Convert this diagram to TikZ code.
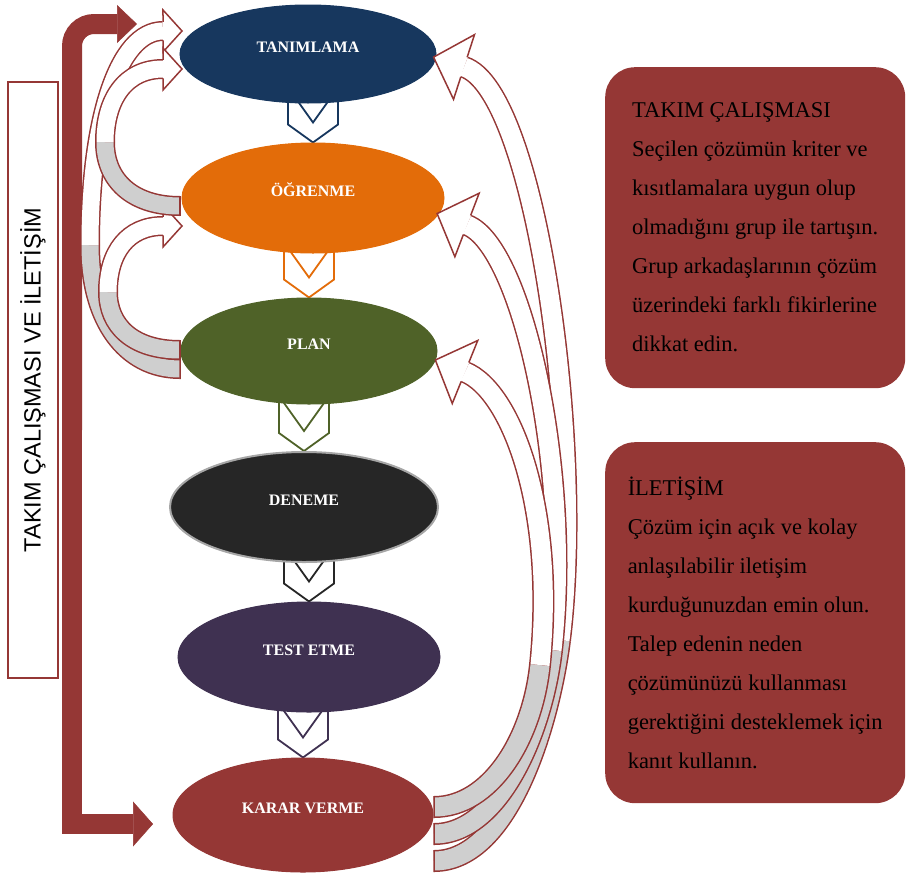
\documentclass[tikz,border=0pt]{standalone}
\usepackage{fontspec}
\setmainfont{Liberation Serif}
\setsansfont{Liberation Sans}
\usetikzlibrary{arrows.meta,backgrounds,decorations.markings,shapes.geometric}
\definecolor{Navy}{HTML}{17375E}
\definecolor{Pumpkin}{HTML}{E36C09}
\definecolor{Olive}{HTML}{4F6228}
\definecolor{Coal}{HTML}{262626}
\definecolor{Plum}{HTML}{3F3151}
\definecolor{Maroon}{HTML}{953735}
\definecolor{BandGray}{HTML}{CFCFCF}
\tikzset{
  stage/.style={
    ellipse, fill=#1, draw=#1, line width=1pt, inner sep=0pt, text=white,
    font=\bfseries\fontsize{16}{18}\selectfont, text height=8pt, text depth=12pt
  },
  chev/.style={draw=#1, fill=white, line width=1.8pt, line join=miter},
  notebox/.style={
    rounded corners=30pt, fill=Maroon, minimum width=300pt, minimum height=321pt,
    align=left, anchor=north west, font=\fontsize{22.5}{39}\selectfont
  },
  sidebox/.style={
    draw=Maroon, line width=1.5pt, fill=white, rotate=90,
    minimum width=596pt, minimum height=50pt, font=\sffamily\fontsize{23.5}{28}\selectfont
  },
  bracket/.style={draw=Maroon, line width=20pt},
  band/.style={draw=Maroon, line width=1.5pt, double=#1},
  backR/.style={band=BandGray, double distance=19pt,
    postaction={decorate, decoration={markings, mark=at position 0 with {
      \draw[Maroon, line width=1.5pt] (0,-11) -- (0,11);}}}},
  backL/.style={band=BandGray, double distance=17pt,
    postaction={decorate, decoration={markings, mark=at position 0 with {
      \draw[Maroon, line width=1.5pt] (0,-10) -- (0,10);}}}},
  frontR/.style={band=white, double distance=19pt,
    postaction={decorate, decoration={markings, mark=at position 0 with {
      \fill[white] (0,-10.25) -- (0,-34) -- (-32,0) -- (0,34) -- (0,10.25) -- cycle;
      \draw[Maroon, line width=1.5pt] (0,-10.25) -- (0,-34) -- (-32,0) -- (0,34) -- (0,10.25);}}}},
  frontL/.style={band=white, double distance=17pt,
    postaction={decorate, decoration={markings, mark=at position 0 with {
      \fill[white] (0,-9.25) -- (0,-21) -- (-19,0) -- (0,21) -- (0,9.25) -- cycle;
      \draw[Maroon, line width=1.5pt] (0,-9.25) -- (0,-21) -- (-19,0) -- (0,21) -- (0,9.25);}}}}
}
\begin{document}
\begin{tikzpicture}[x=1pt, y=-1pt]
  \useasboundingbox (0,0) rectangle (909,878);

  % side label
  \node[sidebox] (side) at (33,380) {TAKIM ÇALIŞMASI VE İLETİŞİM};

  % stages
  \node[stage=Navy, minimum width=256pt, minimum height=98pt] (tanim) at (308,54) {TANIMLAMA};
  \node[stage=Pumpkin, minimum width=262pt, minimum height=110pt] (ogren) at (313,198) {ÖĞRENME};
  \node[stage=Olive, minimum width=256pt, minimum height=106pt] (plan) at (309,351) {PLAN};
  \node[stage=Coal, draw=gray!70, line width=2pt, minimum width=268pt, minimum height=110pt] (dene) at (304,507) {DENEME};
  \node[stage=Plum, minimum width=262pt, minimum height=110pt] (test) at (309,657) {TEST ETME};
  \node[stage=Maroon, minimum width=260pt, minimum height=114pt] (karar) at (303,815) {KARAR VERME};

  % chevrons
  \begin{scope}[on background layer]
    \foreach \nxt/\col in {ogren/Navy, plan/Pumpkin, dene/Olive, test/Coal, karar/Plum}
      \draw[chev=\col] ([shift={(-25,-55)}]\nxt.north) -- ([shift={(0,-20)}]\nxt.north)
        -- ([shift={(25,-55)}]\nxt.north) -- ([shift={(25,-18)}]\nxt.north)
        -- (\nxt.north) -- ([shift={(-25,-18)}]\nxt.north) -- cycle;
  \end{scope}

  % big loop
  \coordinate (brTop) at (137,24);
  \coordinate (brBot) at (153,824);
  \draw[bracket, rounded corners=22pt, -{Triangle[length=20pt,width=38pt,line width=0.5pt]}] (72,430) |- (brTop);
  \draw[bracket, -{Triangle[length=20pt,width=45pt,line width=0.5pt]}] (72,100) |- (brBot);

  % left bands
  \draw[backL] (180,369) .. controls (125,369) and (90,320) .. (90,245);
  \draw[frontL] (163,31) .. controls (118,31) and (90,120) .. (90,245);
  \draw[backL] (180,350) .. controls (132,350) and (108,325) .. (108,292);
  \draw[frontL] (163,226) .. controls (128,226) and (108,252) .. (108,292);
  \draw[backL] (180,206) .. controls (132,206) and (105,180) .. (105,142);
  \draw[frontL] (163,69) .. controls (125,69) and (105,100) .. (105,142);

  % right bands
  \draw[backR] (434,861) .. controls (510,861) and (550,720) .. (560,640);
  \draw[frontR] (464,67) .. controls (535,90) and (585,442) .. (560,640);
  \draw[backR] (434,834) .. controls (500,834) and (543,730) .. (552,650);
  \draw[frontR] (467,225) .. controls (522,246) and (572,471) .. (552,650);
  \draw[backR] (434,807) .. controls (490,807) and (532,740) .. (540,665);
  \draw[frontR] (465,372) .. controls (512,391) and (556,511) .. (540,665);

  % notes
  \node[notebox] (teamnote) at (605,67) {TAKIM ÇALIŞMASI\\
    Seçilen çözümün kriter ve\\
    kısıtlamalara uygun olup\\
    olmadığını grup ile tartışın.\\
    Grup arkadaşlarının çözüm\\
    üzerindeki farklı fikirlerine\\
    dikkat edin.};
  \node[notebox, minimum height=361pt] (talknote) at (605,442) {İLETİŞİM\\
    Çözüm için açık ve kolay\\
    anlaşılabilir iletişim\\
    kurduğunuzdan emin olun.\\
    Talep edenin neden\\
    çözümünüzü kullanması\\
    gerektiğini desteklemek için\\
    kanıt kullanın.};
\end{tikzpicture}
\end{document}
